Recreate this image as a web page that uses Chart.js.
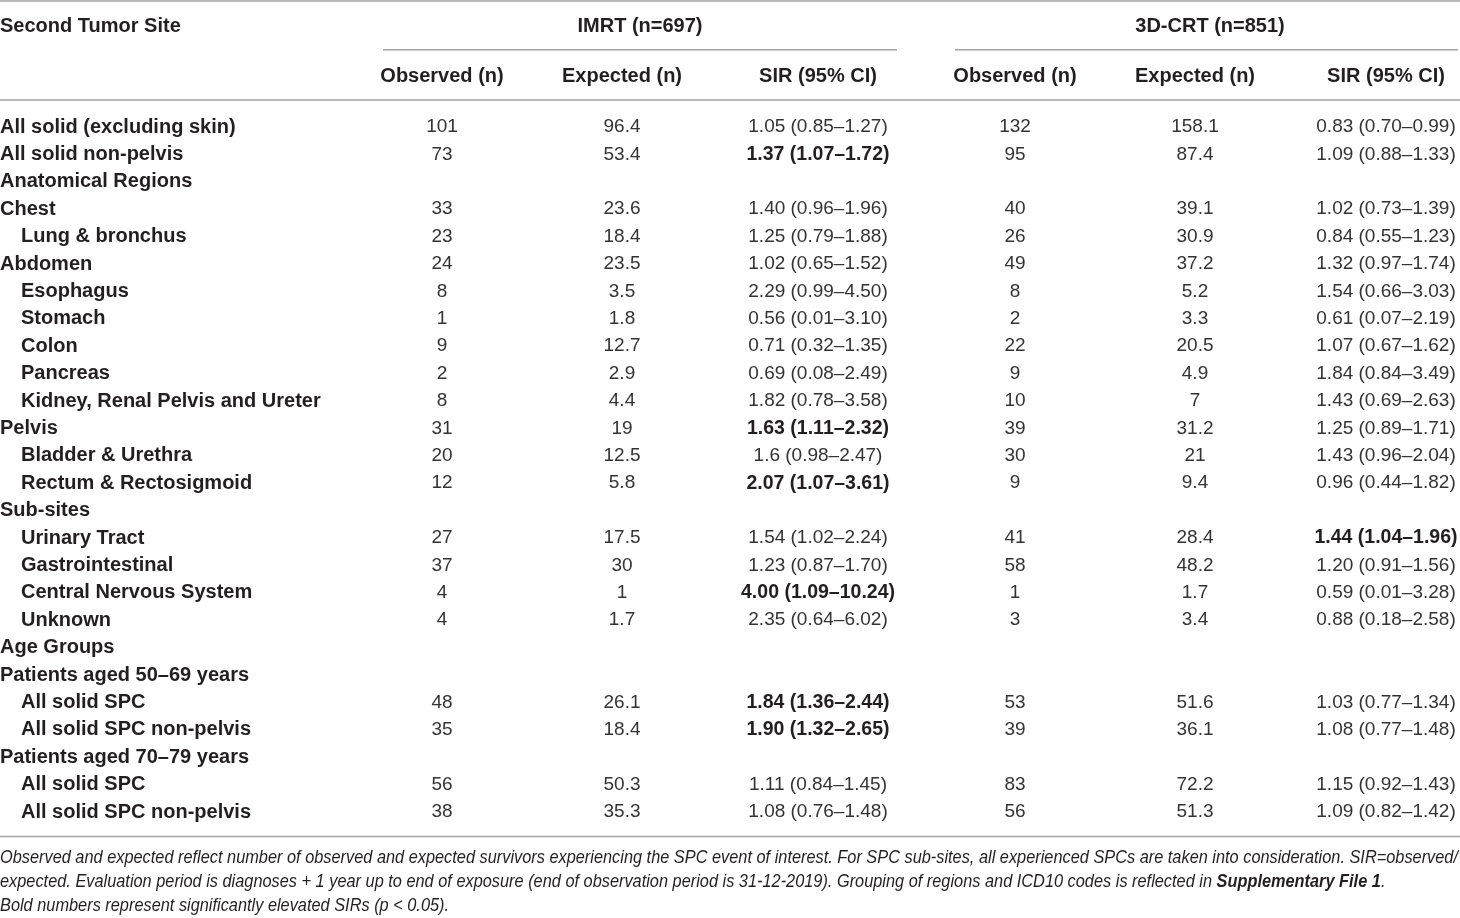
<!DOCTYPE html>
<html lang="en">
<head>
<meta charset="UTF-8">
<title>SIR of second primary cancers - IMRT vs 3D-CRT</title>
<script src="https://cdn.jsdelivr.net/npm/chart.js"></script>
<style>
    html, body { margin: 0; padding: 0; background: #ffffff; }
    #wrap { width: 1460px; height: 918px; position: relative; }
</style>
</head>
<body>
<div id="wrap"><canvas id="tabla"></canvas></div>
<script>
const siteLabels = ['All solid (excluding skin)', 'All solid non-pelvis', 'Anatomical Regions', 'Chest',
    'Lung & bronchus', 'Abdomen', 'Esophagus', 'Stomach', 'Colon', 'Pancreas',
    'Kidney, Renal Pelvis and Ureter', 'Pelvis', 'Bladder & Urethra', 'Rectum & Rectosigmoid',
    'Sub-sites', 'Urinary Tract', 'Gastrointestinal', 'Central Nervous System', 'Unknown',
    'Age Groups', 'Patients aged 50–69 years', 'All solid SPC', 'All solid SPC non-pelvis',
    'Patients aged 70–79 years', 'All solid SPC', 'All solid SPC non-pelvis'];
const siteIndented = [0, 0, 0, 0, 1, 0, 1, 1, 1, 1, 1, 0, 1, 1, 0, 1, 1, 1, 1, 0, 0, 1, 1, 0, 1, 1];

const imrtObserved = ['101', '73', '', '33', '23', '24', '8', '1', '9', '2', '8', '31', '20', '12', '',
    '27', '37', '4', '4', '', '', '48', '35', '', '56', '38'];
const imrtExpected = ['96.4', '53.4', '', '23.6', '18.4', '23.5', '3.5', '1.8', '12.7', '2.9', '4.4', '19',
    '12.5', '5.8', '', '17.5', '30', '1', '1.7', '', '', '26.1', '18.4', '', '50.3', '35.3'];
const imrtSir = ['1.05 (0.85–1.27)', '1.37 (1.07–1.72)', '', '1.40 (0.96–1.96)', '1.25 (0.79–1.88)',
    '1.02 (0.65–1.52)', '2.29 (0.99–4.50)', '0.56 (0.01–3.10)', '0.71 (0.32–1.35)', '0.69 (0.08–2.49)',
    '1.82 (0.78–3.58)', '1.63 (1.11–2.32)', '1.6 (0.98–2.47)', '2.07 (1.07–3.61)', '',
    '1.54 (1.02–2.24)', '1.23 (0.87–1.70)', '4.00 (1.09–10.24)', '2.35 (0.64–6.02)', '', '',
    '1.84 (1.36–2.44)', '1.90 (1.32–2.65)', '', '1.11 (0.84–1.45)', '1.08 (0.76–1.48)'];
const imrtSignificant = [1, 11, 13, 17, 21, 22];

const crtObserved = ['132', '95', '', '40', '26', '49', '8', '2', '22', '9', '10', '39', '30', '9', '',
    '41', '58', '1', '3', '', '', '53', '39', '', '83', '56'];
const crtExpected = ['158.1', '87.4', '', '39.1', '30.9', '37.2', '5.2', '3.3', '20.5', '4.9', '7', '31.2',
    '21', '9.4', '', '28.4', '48.2', '1.7', '3.4', '', '', '51.6', '36.1', '', '72.2', '51.3'];
const crtSir = ['0.83 (0.70–0.99)', '1.09 (0.88–1.33)', '', '1.02 (0.73–1.39)', '0.84 (0.55–1.23)',
    '1.32 (0.97–1.74)', '1.54 (0.66–3.03)', '0.61 (0.07–2.19)', '1.07 (0.67–1.62)', '1.84 (0.84–3.49)',
    '1.43 (0.69–2.63)', '1.25 (0.89–1.71)', '1.43 (0.96–2.04)', '0.96 (0.44–1.82)', '',
    '1.44 (1.04–1.96)', '1.20 (0.91–1.56)', '0.59 (0.01–3.28)', '0.88 (0.18–2.58)', '', '',
    '1.03 (0.77–1.34)', '1.08 (0.77–1.48)', '', '1.15 (0.92–1.43)', '1.09 (0.82–1.42)'];
const crtSignificant = [15];

const groupHeaders = ['IMRT (n=697)', '3D-CRT (n=851)'];
const columnHeaders = ['Observed (n)', 'Expected (n)', 'SIR (95% CI)'];
const firstHeader = 'Second Tumor Site';

const footnoteLines = [
    [['Observed and expected reflect number of observed and expected survivors experiencing the SPC event of interest. For SPC sub-sites, all experienced SPCs are taken into consideration. SIR=observed/', false]],
    [['expected. Evaluation period is diagnoses + 1 year up to end of exposure (end of observation period is 31-12-2019). Grouping of regions and ICD10 codes is reflected in ', false],
     ['Supplementary File 1', true], ['.', false]],
    [['Bold numbers represent significantly elevated SIRs (p < 0.05).', false]]
];

// ---- layout (in scale units: x ~ pixels, y ~ row index) ----
const colX = [442, 622, 818, 1015, 1195, 1386];
const groupX = [640, 1210];
const groupSpan = [[383, 897], [955, 1458]];
const rowHeader = -3.62, rowSubHeader = -1.8;
const footRows = [26.72, 27.6, 28.47];
const ruleRows = [-4.56, -0.95, 25.93];
const groupRuleRow = -2.78;
const labelFont = 'bold 20px "Liberation Sans", Arial, sans-serif';
const numFont = '19px "Liberation Sans", Arial, sans-serif';
const numBoldFont = 'bold 19.5px "Liberation Sans", Arial, sans-serif';
const footFont = 'italic 18px "Liberation Sans Narrow", "Liberation Sans", Arial, sans-serif';
const footBold = 'italic bold 18px "Liberation Sans Narrow", "Liberation Sans", Arial, sans-serif';
const ink = '#231f20';
const numInk = '#333333';
const ruleColor = '#a3a3a3';

function cellDataset(col, texts, boldRows) {
    return {
        type: 'scatter',
        data: texts.map((t, i) => ({ x: colX[col], y: i })),
        texts: texts,
        boldRows: boldRows,
        isLabel: false,
        align: 'center',
        pointRadius: 0,
        pointHoverRadius: 0
    };
}

function ruleDataset(x0, x1, y) {
    return {
        type: 'line',
        data: [{ x: x0, y: y }, { x: x1, y: y }],
        borderColor: ruleColor,
        borderWidth: 1.5,
        pointRadius: 0
    };
}

const datasets = [
    {
        type: 'scatter',
        data: siteLabels.map((t, i) => ({ x: siteIndented[i] ? 21 : 0, y: i })),
        texts: siteLabels,
        boldRows: siteLabels.map((t, i) => i),
        isLabel: true,
        align: 'left',
        pointRadius: 0,
        pointHoverRadius: 0
    },
    cellDataset(0, imrtObserved, []),
    cellDataset(1, imrtExpected, []),
    cellDataset(2, imrtSir, imrtSignificant),
    cellDataset(3, crtObserved, []),
    cellDataset(4, crtExpected, []),
    cellDataset(5, crtSir, crtSignificant)
];
ruleRows.forEach(r => datasets.push(ruleDataset(0, 1460, r)));
groupSpan.forEach(s => datasets.push(ruleDataset(s[0], s[1], groupRuleRow)));

const tablePlugin = {
    id: 'tablePlugin',
    afterDatasetsDraw(chart) {
        const ctx = chart.ctx;
        const xs = chart.scales.x, ys = chart.scales.y;
        ctx.save();
        ctx.textBaseline = 'middle';

        // body cells
        chart.data.datasets.forEach((ds, di) => {
            if (!ds.texts) return;
            const meta = chart.getDatasetMeta(di);
            ctx.textAlign = ds.align;
            meta.data.forEach((el, i) => {
                const t = ds.texts[i];
                if (!t) return;
                const bold = ds.boldRows.includes(i);
                ctx.font = ds.isLabel ? labelFont : (bold ? numBoldFont : numFont);
                ctx.fillStyle = (ds.isLabel || bold) ? ink : numInk;
                ctx.fillText(t, el.x, el.y + 1);
            });
        });

        // headers
        ctx.fillStyle = ink;
        ctx.font = labelFont;
        ctx.textAlign = 'left';
        ctx.fillText(firstHeader, xs.getPixelForValue(0), ys.getPixelForValue(rowHeader));
        ctx.textAlign = 'center';
        groupHeaders.forEach((h, g) => ctx.fillText(h, xs.getPixelForValue(groupX[g]), ys.getPixelForValue(rowHeader)));
        colX.forEach((cx, c) => ctx.fillText(columnHeaders[c % 3], xs.getPixelForValue(cx), ys.getPixelForValue(rowSubHeader)));

        // footnote, squeezed to the table width
        ctx.textAlign = 'left';
        const lineWidth = (parts) => parts.reduce((w, p) => { ctx.font = p[1] ? footBold : footFont; return w + ctx.measureText(p[0]).width; }, 0);
        const squeeze = (xs.getPixelForValue(1458) - xs.getPixelForValue(0)) / lineWidth(footnoteLines[0]);
        footnoteLines.forEach((parts, li) => {
            ctx.save();
            ctx.translate(xs.getPixelForValue(0), ys.getPixelForValue(footRows[li]));
            ctx.scale(squeeze, 1);
            let x = 0;
            parts.forEach(p => {
                ctx.font = p[1] ? footBold : footFont;
                ctx.fillText(p[0], x, 0);
                x += ctx.measureText(p[0]).width;
            });
            ctx.restore();
        });
        ctx.restore();
    }
};

new Chart(document.getElementById('tabla'), {
    type: 'scatter',
    data: { datasets: datasets },
    options: {
        responsive: true,
        maintainAspectRatio: false,
        animation: false,
        layout: { padding: 0 },
        plugins: { legend: { display: false }, tooltip: { enabled: false } },
        elements: { line: { tension: 0 } },
        scales: {
            x: { type: 'linear', display: false, min: 0, max: 1460 },
            y: { type: 'linear', display: false, reverse: true, min: -126 / 27.4, max: (918 - 126) / 27.4 }
        }
    },
    plugins: [tablePlugin]
});
</script>
</body>
</html>
